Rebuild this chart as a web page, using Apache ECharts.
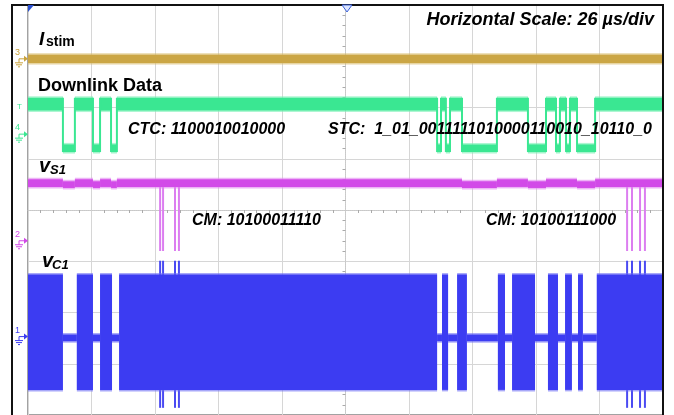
<!DOCTYPE html>
<html><head><meta charset="utf-8">
<script src="https://cdn.jsdelivr.net/npm/echarts@6/dist/echarts.min.js"></script>
<style>html,body{margin:0;padding:0;background:#fff}#c{width:674px;height:415px}</style>
</head><body><div id="c"></div>
<script>
// time axis in µs relative to trigger (26 µs/div, 10 div), vertical in divisions
const timeMin = -130, timeMax = 130, timeStep = 26;
const divMin = -4, divMax = 4;

// I_stim trace (constant noisy level)
const istimEdges = [-130, 130];
const istimStates = [0];
const istimLevels = [[2.87, 3.03]];

// Downlink data: transitions (µs) and logic states (1 = high, 0 = low)
const downlinkEdges = [-130, -115.7, -110.8, -103.4, -100.5, -96.0, -93.6, 37.5, 39.1, 41.1, 42.8, 47.7, 62.0, 74.7, 82.1, 86.2, 87.8, 90.3, 91.9, 94.8, 102.2, 130];
const downlinkStates = [1,0,1,0,1,0,1,0,1,0,1,0,1,0,1,0,1,0,1,0,1];
const downlinkLevels = [[1.13, 1.28], [1.94, 2.19]];

// v_S1 baseline (1 = normal, 0 = slightly dipped) and modulation spikes
const vs1Edges = [-130, -115.7, -110.8, -103.4, -100.5, -96.0, -93.6, 47.7, 62.0, 74.7, 82.1, 94.8, 102.2, 130];
const vs1States = [1,0,1,0,1,0,1,0,1,0,1,0,1];
const vs1Levels = [[0.43, 0.56], [0.45, 0.60]];
const vs1SpikeTimes = [-75.9, -74.7, -69.8, -68.2, 115.3, 117.3, 120.6, 122.6];
const vs1SpikeRange = [-0.80, 0.52];

// v_C1: burst (1) vs idle (0)
const vc1Edges = [-130, -115.7, -110.0, -103.4, -100.5, -95.6, -92.7, 37.5, 39.5, 42.0, 45.7, 49.7, 62.4, 65.3, 68.2, 77.6, 82.9, 87.0, 89.9, 92.7, 95.2, 97.2, 102.9, 130];
const vc1States = [1,0,1,0,1,0,1,0,1,0,1,0,1,0,1,0,1,0,1,0,1,0,1];
const vc1Levels = [[-2.56, -2.43], [-3.51, -1.26]];
const vc1SpikeTimes = [-75.9, -74.7, -69.8, -68.2, 115.3, 117.3, 120.6, 122.6];
const vc1SpikeRange = [-3.86, -0.99];

// channel ground markers: label and vertical position (div)
const markerLabels = ['3', '4', '2', '1'];
const markerLevels = [2.95, 1.48, -0.60, -2.47];
const markerColors = ['#c9a23c', '#3ae792', '#d247e8', '#3c3cf2'];

const chart = echarts.init(document.getElementById('c'));

function segs(edges, states) {
  const d = [];
  for (let i = 0; i < states.length; i++) d.push([edges[i], edges[i+1], states[i]]);
  return d;
}

function bandSeries(edges, states, levels, color, light, connect) {
  return {
    type: 'custom', clip: true, silent: true,
    data: segs(edges, states),
    encode: { x: [0, 1] },
    renderItem: function (params, api) {
      const t0 = api.value(0), t1 = api.value(1), s = api.value(2);
      const lv = levels[s];
      const a = api.coord([t0, lv[1]]), b = api.coord([t1, lv[0]]);
      const children = [
        { type: 'rect', shape: { x: a[0], y: a[1] - 1.5, width: b[0] - a[0], height: b[1] - a[1] + 3 }, style: { fill: light } },
        { type: 'rect', shape: { x: a[0], y: a[1], width: b[0] - a[0], height: b[1] - a[1] }, style: { fill: color } }
      ];
      if (connect && params.dataIndex > 0) {
        const p = api.coord([t0, levels[0][0]]), q = api.coord([t0, levels[1][1]]);
        children.push({ type: 'line', shape: { x1: p[0], y1: p[1], x2: q[0], y2: q[1] }, style: { stroke: color, lineWidth: 2 } });
      }
      return { type: 'group', children: children };
    }
  };
}

function spikeSeries(times, range, color) {
  return {
    type: 'custom', clip: true, silent: true,
    data: times.map(t => [t, range[0], range[1]]),
    encode: { x: 0, y: [1, 2] },
    renderItem: function (params, api) {
      const p = api.coord([api.value(0), api.value(1)]), q = api.coord([api.value(0), api.value(2)]);
      return { type: 'line', shape: { x1: p[0], y1: p[1], x2: q[0], y2: q[1] }, style: { stroke: color, lineWidth: 2 } };
    }
  };
}

const F = '"Liberation Sans", Arial, sans-serif';
// channel markers drawn at the left edge, positioned via the y scale
const markerSeries = {
  type: 'custom', clip: false, silent: true,
  data: markerLevels.map((v, i) => [timeMin, v, i]),
  encode: { x: 0, y: 1 },
  renderItem: function (params, api) {
    const p = api.coord([api.value(0), api.value(1)]);
    const i = api.value(2), c = markerColors[i];
    const x = p[0], y = p[1];
    return { type: 'group', children: [
      { type: 'text', x: x - 13, y: y - 2, style: { text: markerLabels[i], font: '9px ' + F, fill: c, textVerticalAlign: 'bottom' } },
      { type: 'line', shape: { x1: x - 9, y1: y, x2: x - 4, y2: y }, style: { stroke: c, lineWidth: 1 } },
      { type: 'polygon', shape: { points: [[x - 4, y - 3], [x, y], [x - 4, y + 3]] }, style: { fill: c } },
      { type: 'line', shape: { x1: x - 9, y1: y, x2: x - 9, y2: y + 4 }, style: { stroke: c, lineWidth: 1 } },
      { type: 'line', shape: { x1: x - 13, y1: y + 4, x2: x - 5, y2: y + 4 }, style: { stroke: c, lineWidth: 1 } },
      { type: 'line', shape: { x1: x - 12, y1: y + 6, x2: x - 6, y2: y + 6 }, style: { stroke: c, lineWidth: 1 } },
      { type: 'line', shape: { x1: x - 10, y1: y + 8, x2: x - 8, y2: y + 8 }, style: { stroke: c, lineWidth: 1 } }
    ] };
  }
};

function txt(x, y, s, size, italic, align) {
  return { type: 'text', x: x, y: y, z: 100,
    style: { text: s, font: (italic ? 'italic ' : '') + 'bold ' + size + 'px ' + F, fill: '#000', textAlign: align || 'left', textVerticalAlign: 'middle' } };
}

const gridCol = '#d6d6d6';
chart.setOption({
  animation: false,
  backgroundColor: '#fff',
  grid: { left: 28, top: 5, width: 635, height: 412, show: true, borderColor: '#444', borderWidth: 1 },
  xAxis: {
    type: 'value', min: timeMin, max: timeMax, interval: timeStep,
    axisLine: { show: true, onZero: true, lineStyle: { color: '#c8c8c8', type: 'dotted' } },
    axisTick: { show: false },
    minorTick: { show: true, splitNumber: 5, length: 3, lineStyle: { color: '#aaa' } },
    axisLabel: { show: false },
    splitLine: { show: true, lineStyle: { color: gridCol, width: 1 } }
  },
  yAxis: {
    type: 'value', min: divMin, max: divMax, interval: 1,
    axisLine: { show: true, onZero: true, lineStyle: { color: '#c8c8c8', type: 'dotted' } },
    axisTick: { show: false },
    minorTick: { show: true, splitNumber: 5, length: 3, lineStyle: { color: '#aaa' } },
    axisLabel: { show: false },
    splitLine: { show: true, lineStyle: { color: gridCol, width: 1 } }
  },
  series: [
    bandSeries(istimEdges, istimStates, istimLevels, '#cba645', 'rgba(215,185,100,0.6)', false),
    bandSeries(downlinkEdges, downlinkStates, downlinkLevels, '#3ae792', 'rgba(120,240,180,0.6)', true),
    spikeSeries(vs1SpikeTimes, vs1SpikeRange, '#dc7ef0'),
    bandSeries(vs1Edges, vs1States, vs1Levels, '#d24ae8', 'rgba(225,130,240,0.6)', false),
    spikeSeries(vc1SpikeTimes, vc1SpikeRange, '#4a4af2'),
    bandSeries(vc1Edges, vc1States, vc1Levels, '#3c3cf2', 'rgba(110,110,245,0.6)', false),
    markerSeries
  ],
  graphic: [
    { type: 'rect', shape: { x: 12, y: 5, width: 651, height: 420 }, style: { fill: 'none', stroke: '#111', lineWidth: 2 }, z: 90 },
    { type: 'polygon', shape: { points: [[28, 5], [34, 5], [28, 12]] }, style: { fill: '#2a50d0' }, z: 95 },
    { type: 'polygon', shape: { points: [[342, 5], [352, 5], [347, 12]] }, style: { fill: '#dde6ff', stroke: '#3a60d8', lineWidth: 1 }, z: 95 },
    { type: 'text', x: 17, y: 103, style: { text: 'T', font: '8px ' + F, fill: '#3ae792' }, z: 95 },
    txt(654, 20, 'Horizontal Scale: 26 µs/div', 18, true, 'right'),
    txt(39, 40, 'I', 19, true),
    txt(46, 42, 'stim', 14, false),
    txt(38, 86, 'Downlink Data', 18, false),
    txt(128, 130, 'CTC: 1100010010000', 16, true),
    txt(328, 130, 'STC:  1_01_0011111010000110010_10110_0', 16, true),
    txt(39, 166, 'v', 20, true),
    txt(50, 170, 'S1', 13, true),
    txt(192, 221, 'CM: 10100011110', 16, true),
    txt(486, 221, 'CM: 10100111000', 16, true),
    txt(42, 261, 'v', 20, true),
    txt(52, 265, 'C1', 13, true)
  ]
});
</script></body></html>
